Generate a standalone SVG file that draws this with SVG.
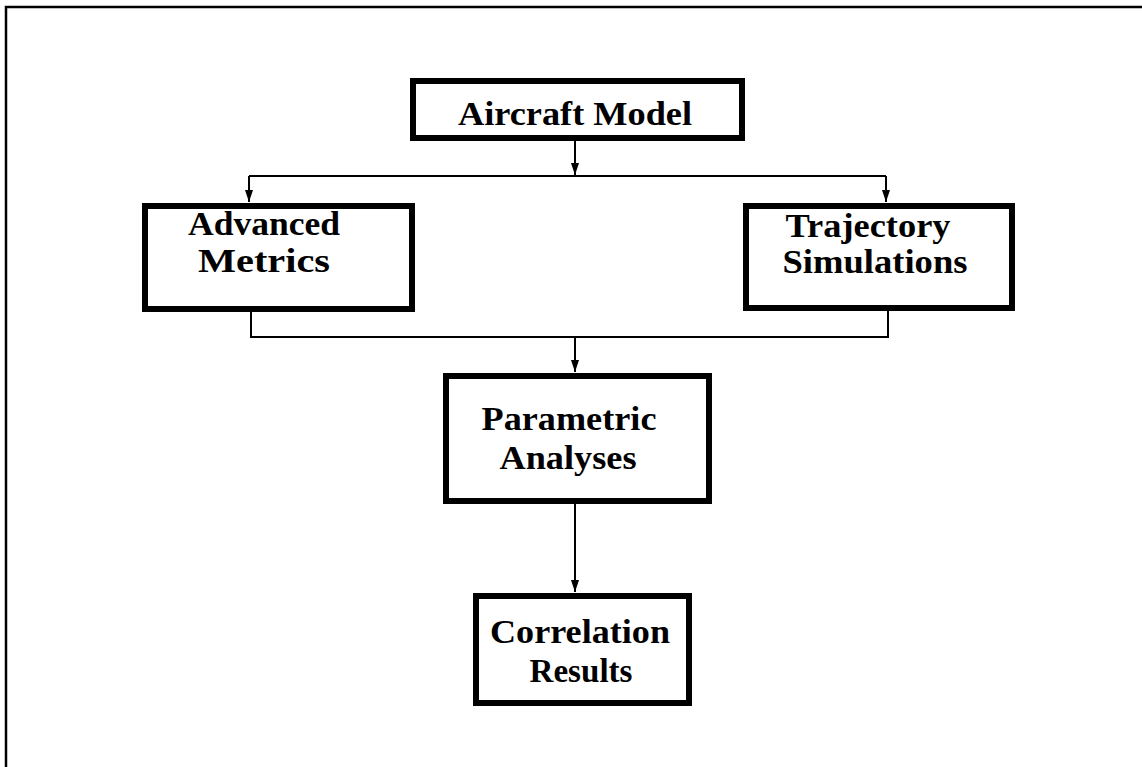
<svg xmlns="http://www.w3.org/2000/svg" width="1142" height="767" viewBox="0 0 1142 767">
  <style>
    .box { fill: #ffffff; stroke: #000000; stroke-width: 6; }
    .lbl { font-family: "Liberation Serif", "Times New Roman", serif; font-weight: bold; font-size: 33px; fill: #000000; }
    .wire { fill: none; stroke: #000000; stroke-width: 2; }
    .frame { fill: none; stroke: #000000; stroke-width: 2.5; }
  </style>
  <defs>
    <marker id="arrow" markerUnits="userSpaceOnUse" markerWidth="13" markerHeight="10" refX="12" refY="5" orient="auto">
      <path d="M0,1 L12,5 L0,9 Z" fill="#000000"/>
    </marker>
  </defs>
  <rect width="1142" height="767" fill="#ffffff"/>

  <!-- outer border: only the top and left edges are drawn -->
  <path class="frame" d="M6,767 V7 H1142"/>

  <g id="connectors">
    <path class="wire" d="M575,141 V175" marker-end="url(#arrow)"/>
    <path class="wire" d="M249,176 H886"/>
    <path class="wire" d="M249,176 V202" marker-end="url(#arrow)"/>
    <path class="wire" d="M886,176 V202" marker-end="url(#arrow)"/>
    <path class="wire" d="M251,312 V337 H888 V311"/>
    <path class="wire" d="M575,337 V372" marker-end="url(#arrow)"/>
    <path class="wire" d="M575,504 V592" marker-end="url(#arrow)"/>
  </g>

  <g id="aircraft-model">
    <rect class="box" x="413" y="81" width="329" height="57"/>
    <text class="lbl" x="575" y="125" text-anchor="middle" textLength="234" lengthAdjust="spacingAndGlyphs">Aircraft Model</text>
  </g>

  <g id="advanced-metrics">
    <rect class="box" x="145" y="206" width="267" height="103"/>
    <text class="lbl" x="264" y="235" text-anchor="middle" textLength="152" lengthAdjust="spacingAndGlyphs">Advanced</text>
    <text class="lbl" x="264" y="272" text-anchor="middle" textLength="132" lengthAdjust="spacingAndGlyphs">Metrics</text>
  </g>

  <g id="trajectory-simulations">
    <rect class="box" x="746" y="206" width="266" height="102"/>
    <text class="lbl" x="868" y="237" text-anchor="middle" textLength="165" lengthAdjust="spacingAndGlyphs">Trajectory</text>
    <text class="lbl" x="875" y="273" text-anchor="middle" textLength="185" lengthAdjust="spacingAndGlyphs">Simulations</text>
  </g>

  <g id="parametric-analyses">
    <rect class="box" x="446" y="376" width="263" height="125"/>
    <text class="lbl" x="569" y="430" text-anchor="middle" textLength="175" lengthAdjust="spacingAndGlyphs">Parametric</text>
    <text class="lbl" x="568" y="469" text-anchor="middle" textLength="137" lengthAdjust="spacingAndGlyphs">Analyses</text>
  </g>

  <g id="correlation-results">
    <rect class="box" x="476" y="596" width="213" height="107"/>
    <text class="lbl" x="580" y="643" text-anchor="middle" textLength="180" lengthAdjust="spacingAndGlyphs">Correlation</text>
    <text class="lbl" x="581" y="682" text-anchor="middle" textLength="103" lengthAdjust="spacingAndGlyphs">Results</text>
  </g>
</svg>
